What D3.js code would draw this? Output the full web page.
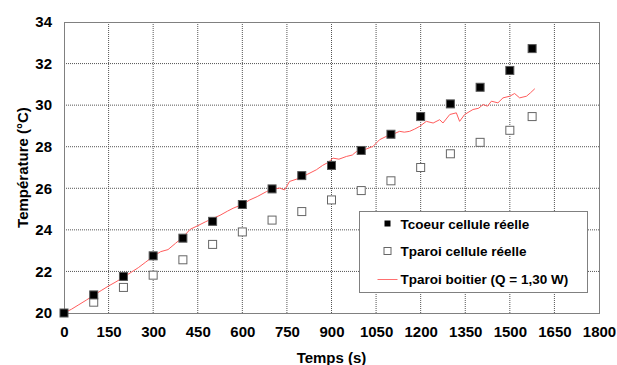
<!DOCTYPE html>
<html>
<head>
<meta charset="utf-8">
<script src="https://cdn.jsdelivr.net/npm/d3@7"></script>
<style>
  body { margin: 0; background: #fff; }
  svg { display: block; font-family: "Liberation Sans", Arial, sans-serif; }
</style>
</head>
<body>
<div id="chart"></div>
<script>
// time points of the measured cells (s)
const tCells = [0, 100, 200, 300, 400, 500, 600, 700, 800, 900, 1000, 1100, 1200, 1300, 1400, 1500, 1575];
const tCoeur = [20.0, 20.87, 21.76, 22.75, 23.6, 24.41, 25.22, 25.97, 26.61, 27.1, 27.82, 28.6, 29.45, 30.06, 30.86, 31.67, 32.72];
// wall temperature of the cell (first point hidden under the filled square)
const tParoiT = [100, 200, 300, 400, 500, 600, 700, 800, 900, 1000, 1100, 1200, 1300, 1400, 1500, 1575];
const tParoi = [20.52, 21.23, 21.82, 22.56, 23.3, 23.9, 24.47, 24.88, 25.44, 25.89, 26.36, 27.0, 27.66, 28.21, 28.79, 29.45];
// simulated box wall temperature
const tBoitierT = [0, 25, 50, 75, 100, 125, 150, 175, 200, 225, 250, 275, 300, 325, 350, 375, 400, 425, 450, 475, 490,
  525, 550, 569, 600, 625, 650, 681, 700, 726, 742, 759, 793, 820, 849, 870, 888, 905, 925, 950, 970, 984, 1010,
  1040, 1062, 1085, 1110, 1129, 1145, 1163, 1180, 1197, 1219, 1242, 1264, 1275, 1298, 1320, 1331, 1348, 1376,
  1395, 1410, 1425, 1438, 1460, 1477, 1500, 1516, 1533, 1556, 1570, 1584];
const tBoitier = [20.0, 20.18, 20.4, 20.62, 20.85, 21.08, 21.3, 21.5, 21.72, 21.95, 22.18, 22.45, 22.72, 22.95, 23.05, 23.35, 23.65, 24.03, 24.2, 24.38, 24.48,
  24.7, 24.9, 25.04, 25.22, 25.44, 25.6, 25.84, 25.95, 26.01, 25.92, 26.33, 26.49, 26.68, 26.89, 27.1, 27.24, 27.45, 27.4, 27.53, 27.6, 27.77, 27.85,
  28.02, 28.34, 28.5, 28.62, 28.74, 28.7, 28.74, 28.85, 28.98, 29.22, 29.14, 29.3, 29.14, 29.55, 29.63, 29.22, 29.55, 29.79,
  29.85, 30.03, 29.95, 30.19, 30.11, 30.35, 30.43, 30.56, 30.35, 30.43, 30.6, 30.79];

const xTicks = [0, 150, 300, 450, 600, 750, 900, 1050, 1200, 1350, 1500, 1650, 1800];
const yTicks = [20, 22, 24, 26, 28, 30, 32, 34];
const legendLabels = ["Tcoeur cellule réelle", "Tparoi cellule réelle", "Tparoi boitier (Q = 1,30 W)"];

const W = 617, H = 365;
const margin = { top: 22, right: 18, bottom: 52, left: 64 };
const width = W - margin.left - margin.right;
const height = H - margin.top - margin.bottom;

const svg = d3.select("#chart").append("svg")
    .attr("width", W)
    .attr("height", H);

const g = svg.append("g")
    .attr("transform", `translate(${margin.left},${margin.top})`);

const x = d3.scaleLinear().domain([0, 1800]).range([0, width]);
const y = d3.scaleLinear().domain([20, 34]).range([height, 0]);

// grid
g.append("g").selectAll("line")
    .data(xTicks.slice(1, -1))
    .enter().append("line")
    .attr("x1", d => x(d)).attr("x2", d => x(d))
    .attr("y1", 0).attr("y2", height)
    .attr("stroke", "#555")
    .attr("stroke-dasharray", "1,1");

g.append("g").selectAll("line")
    .data(yTicks.slice(1, -1))
    .enter().append("line")
    .attr("x1", 0).attr("x2", width)
    .attr("y1", d => y(d)).attr("y2", d => y(d))
    .attr("stroke", "#555")
    .attr("stroke-dasharray", "1,1");

g.append("rect")
    .attr("x", 0.5).attr("y", 0.5)
    .attr("width", width).attr("height", height)
    .attr("fill", "none")
    .attr("stroke", "#808080");

// axes
const xAxis = g.append("g")
    .attr("class", "x-axis")
    .attr("transform", `translate(0,${height})`)
    .call(d3.axisBottom(x).tickValues(xTicks).tickSize(0).tickPadding(13).tickFormat(d3.format("d")));

const yAxis = g.append("g")
    .attr("class", "y-axis")
    .call(d3.axisLeft(y).tickValues(yTicks).tickSize(0).tickPadding(12).tickFormat(d3.format("d")));

svg.selectAll(".x-axis path, .y-axis path").remove();
svg.selectAll(".x-axis text, .y-axis text")
    .attr("fill", "#000")
    .attr("font-size", "15px")
    .attr("font-weight", "bold")
    .attr("font-family", "Liberation Sans, Arial, sans-serif");

// titles
svg.append("text")
    .attr("x", margin.left + width / 2)
    .attr("y", 363)
    .attr("text-anchor", "middle")
    .attr("font-size", "15px")
    .attr("font-weight", "bold")
    .text("Temps (s)");

svg.append("text")
    .attr("transform", `translate(28,${margin.top + height / 2}) rotate(-90)`)
    .attr("text-anchor", "middle")
    .attr("font-size", "15px")
    .attr("font-weight", "bold")
    .text("Température (°C)");

// red line
const line = d3.line()
    .x((d, i) => x(tBoitierT[i]))
    .y(d => y(d));

g.append("path")
    .datum(tBoitier)
    .attr("d", line)
    .attr("fill", "none")
    .attr("stroke", "#ff5c5c")
    .attr("stroke-width", 1);

// markers
const s = 8;
g.selectAll(".paroi")
    .data(tParoi)
    .enter().append("rect")
    .attr("class", "paroi")
    .attr("x", (d, i) => x(tParoiT[i]) - s / 2)
    .attr("y", d => y(d) - s / 2)
    .attr("width", s).attr("height", s)
    .attr("fill", "#fff")
    .attr("stroke", "#666");

g.selectAll(".coeur")
    .data(tCoeur)
    .enter().append("rect")
    .attr("class", "coeur")
    .attr("x", (d, i) => x(tCells[i]) - s / 2)
    .attr("y", d => y(d) - s / 2)
    .attr("width", s).attr("height", s)
    .attr("fill", "#000")
    .attr("stroke", "#555");

// legend
const legend = svg.append("g").attr("transform", "translate(359.5,211.5)");
legend.append("rect")
    .attr("width", 228).attr("height", 81)
    .attr("fill", "#fff")
    .attr("stroke", "#808080");

const items = legend.selectAll(".legend-item")
    .data(legendLabels)
    .enter().append("g")
    .attr("class", "legend-item")
    .attr("transform", (d, i) => `translate(0,${12 + i * 27.5})`);

items.append("text")
    .attr("x", 41)
    .attr("y", 5)
    .attr("font-size", "13.5px")
    .attr("font-weight", "bold")
    .text(d => d);

items.filter((d, i) => i === 0).append("rect")
    .attr("x", 25).attr("y", -3).attr("width", 6).attr("height", 6)
    .attr("fill", "#000");
items.filter((d, i) => i === 1).append("rect")
    .attr("x", 24.5).attr("y", -3.5).attr("width", 7).attr("height", 7)
    .attr("fill", "#fff").attr("stroke", "#666");
items.filter((d, i) => i === 2).append("line")
    .attr("x1", 18).attr("x2", 38).attr("y1", 1).attr("y2", 1)
    .attr("stroke", "#ff7070");
</script>
</body>
</html>
